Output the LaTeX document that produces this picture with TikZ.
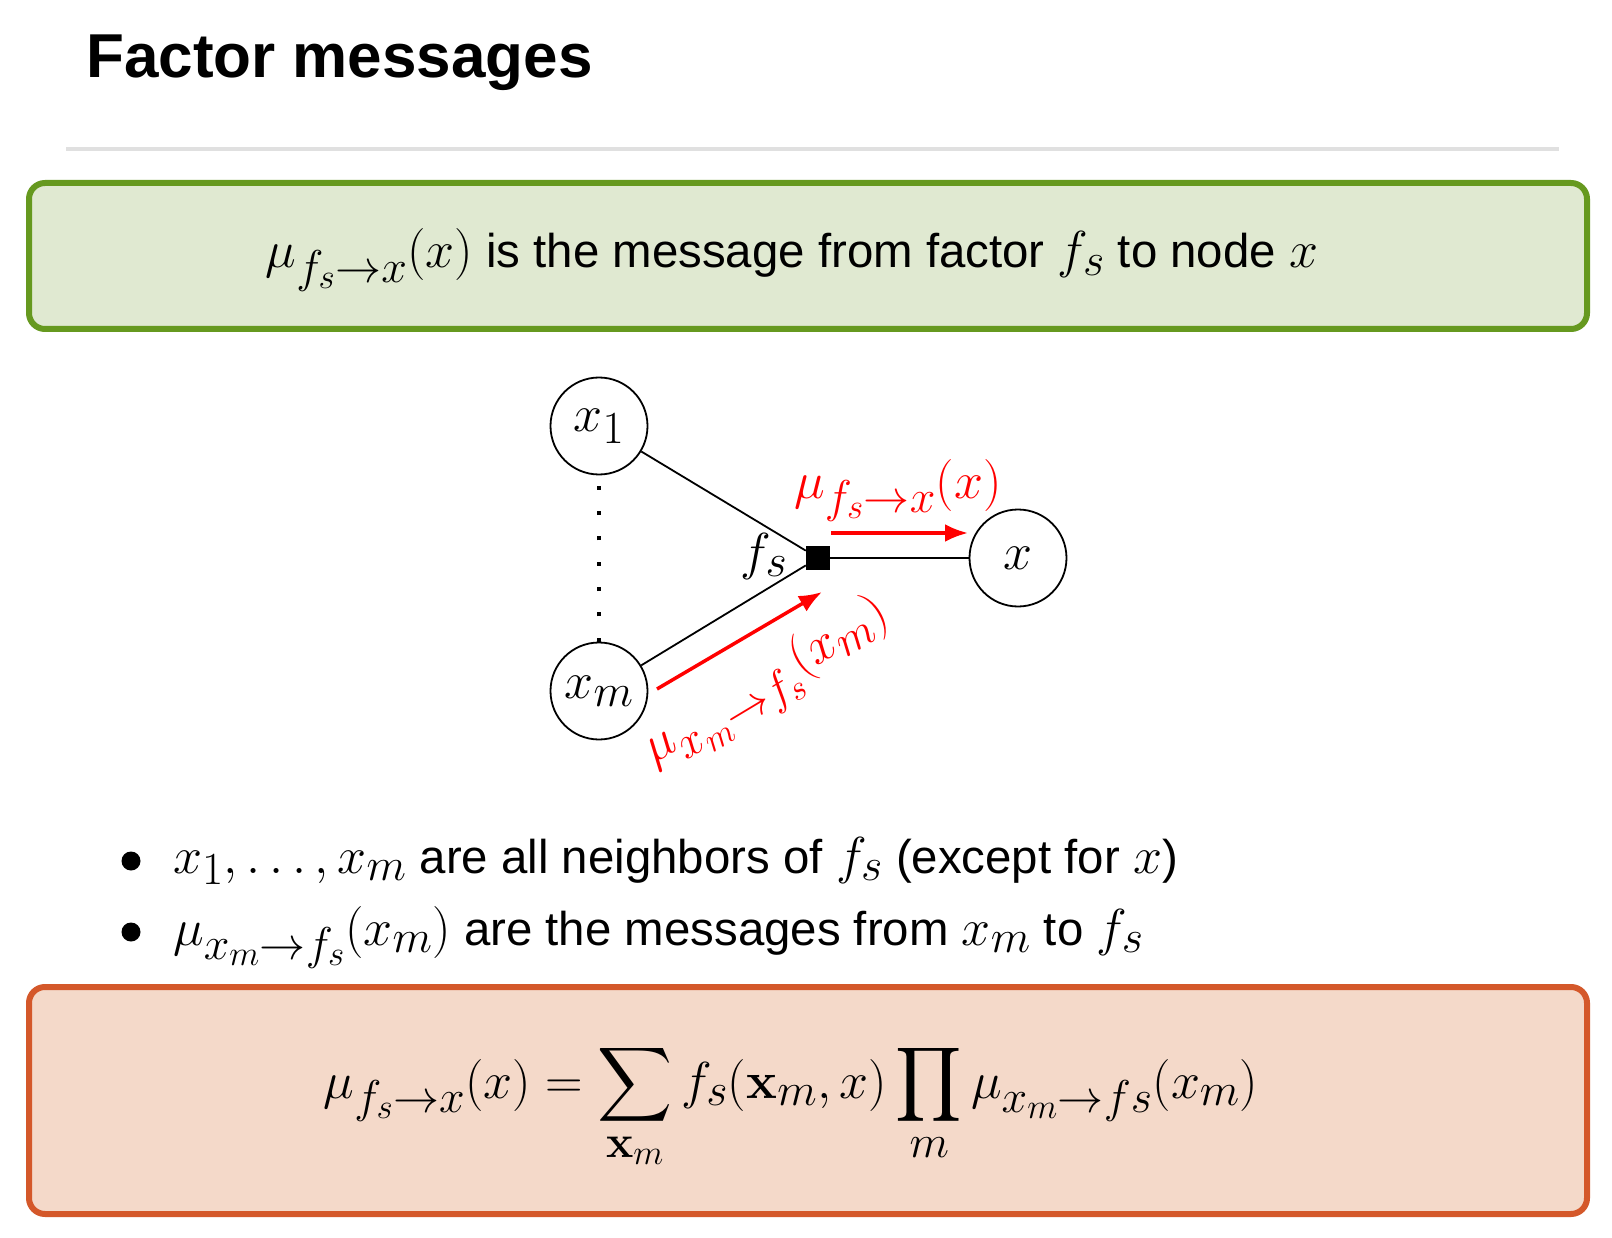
\RequirePackage{fix-cm}
\documentclass[tikz,border=0pt]{standalone}
\usepackage{amsmath}
\usepackage[no-math]{fontspec}
\setmainfont{Liberation Sans}
\DeclareFontFamily{OMX}{cmex}{}
\DeclareFontShape{OMX}{cmex}{m}{n}{<->cmex10}{}
\DeclareMathSizes{47.4}{52}{46}{35}
\usetikzlibrary{arrows.meta}
\definecolor{gborder}{HTML}{66991F}
\definecolor{gfill}{HTML}{E0E9D1}
\definecolor{oborder}{HTML}{D4582A}
\definecolor{ofill}{HTML}{F4D9C9}
\definecolor{rulegray}{HTML}{E0E0E0}
\tikzset{
  body/.style={font=\fontsize{47.4}{56}\selectfont, inner sep=0pt},
  var/.style={circle, draw, line width=1.8pt, minimum size=97pt, inner sep=0pt, font=\fontsize{47.4}{56}\selectfont},
  fac/.style={rectangle, fill=black, minimum size=24pt, inner sep=0pt},
  edge/.style={line width=1.8pt},
  msg/.style={red, line width=3.5pt, -{Latex[length=23pt,width=18pt]}},
  msglabel/.style={red, font=\fontsize{47.4}{56}\selectfont, inner sep=0pt},
  box/.style={line width=6pt, rounded corners=16pt},
  bulletdot/.style={circle, fill=black, minimum size=19pt, inner sep=0pt},
}
\begin{document}
\begin{tikzpicture}[x=1pt, y=-1pt]
\fill[white] (0,0) rectangle (1612,1238);
\useasboundingbox (0,0) rectangle (1612,1238);
% title and rule
\node[anchor=base west, inner sep=0pt, font=\fontsize{62}{70}\selectfont\bfseries] (title) at (86,78) {Factor messages};
\coordinate (ruleL) at (66,149);
\coordinate (ruleR) at (1559,149);
\draw[rulegray, line width=4pt] (ruleL) -- (ruleR);
% green box
\draw[box, draw=gborder, fill=gfill] (29,183) rectangle (1587,329);
\node[body, anchor=base] (deftext) at (792,268) {$\mu_{f_s\to x}(x)$ is the message from factor $f_s$ to node $x$};
% graph
\node[var] (x1) at (599,426) {$x_1$};
\node[var] (xm) at (599,691) {$x_m$};
\node[var] (x) at (1018,558) {$x$};
\node[fac] (f) at (818,558) {};
\node[body, anchor=center] (flabel) at (764,556) {$f_s$};
\draw[edge] (x1) -- (f);
\draw[edge] (xm) -- (f);
\draw[edge] (f) -- (x);
\draw[line width=4pt, dash pattern=on 4pt off 21.3pt] (xm.north) -- (x1.south);
\coordinate (a1s) at (831,533);
\coordinate (a1e) at (968,533);
\draw[msg] (a1s) -- (a1e);
\node[msglabel, anchor=base] (l1) at (898,498) {$\mu_{f_s\to x}(x)$};
\coordinate (a2s) at (657,689);
\coordinate (a2e) at (822,592);
\draw[msg] (a2s) -- (a2e);
\node[msglabel, anchor=center, rotate=31] (l2) at (768,686) {$\mu_{x_m\to f_s}(x_m)$};
% bullets
\node[bulletdot] (b1) at (131,861) {};
\node[body, anchor=base west] (t1) at (173,873) {$x_1,\dots,x_m$ are all neighbors of $f_s$ (except for $x$)};
\node[bulletdot] (b2) at (131,932) {};
\node[body, anchor=base west] (t2) at (173,945) {$\mu_{x_m\to f_s}(x_m)$ are the messages from $x_m$ to $f_s$};
% orange box
\draw[box, draw=oborder, fill=ofill] (29,987) rectangle (1587,1214);
\node[body, anchor=base] (eq) at (791,1098) {$\displaystyle \mu_{f_s\to x}(x) = \sum_{\mathbf{x}_m} f_s(\mathbf{x}_m, x) \prod_m \mu_{x_m\to fs}(x_m)$};
\end{tikzpicture}
\end{document}
